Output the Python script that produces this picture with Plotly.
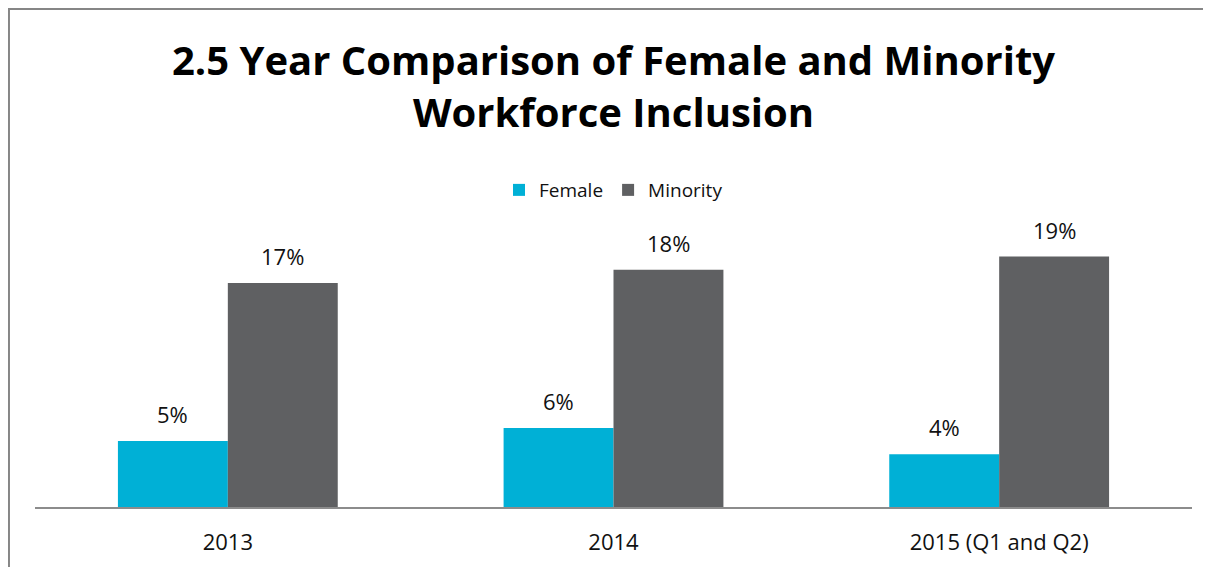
import plotly.graph_objects as go

# Chart data
categories = ["2013", "2014", "2015 (Q1 and Q2)"]
female = [5, 6, 4]
minority = [17, 18, 19]
female_labels = ["5%", "6%", "4%"]
minority_labels = ["17%", "18%", "19%"]

FONT = "'Open Sans', sans-serif"
FEMALE_COLOR = "#00B0D6"
MINORITY_COLOR = "#5F6062"

fig = go.Figure()
fig.add_trace(go.Bar(name="Female", x=categories, y=female,
                     marker=dict(color=FEMALE_COLOR, line=dict(width=0))))
fig.add_trace(go.Bar(name="Minority", x=categories, y=minority,
                     marker=dict(color=MINORITY_COLOR, line=dict(width=0))))

# value labels above each bar (category index, shifted to left / right bar)
annotations = []
for i, (v, lab) in enumerate(zip(female, female_labels)):
    annotations.append(dict(x=i, y=v, text=lab, xshift=-55, yshift=10,
                            showarrow=False, yanchor="bottom"))
for i, (v, lab) in enumerate(zip(minority, minority_labels)):
    annotations.append(dict(x=i, y=v, text=lab, xshift=55, yshift=10,
                            showarrow=False, yanchor="bottom"))

fig.update_layout(
    width=1211, height=567,
    margin=dict(l=27, r=27, t=209, b=68),
    paper_bgcolor="white", plot_bgcolor="white",
    barmode="group", bargap=0.43, bargroupgap=0,
    font=dict(family=FONT, color="#111111", size=22),
    title=dict(
        text="<b>2.5 Year Comparison of Female and Minority<br>Workforce Inclusion</b>",
        x=0.5, xanchor="center", y=0.882, yanchor="middle",
        font=dict(size=40, color="black", family=FONT),
    ),
    legend=dict(
        orientation="h", x=0.5, xanchor="center", y=1.093, yanchor="middle",
        font=dict(size=19), itemwidth=30,
    ),
    xaxis=dict(
        type="category", range=[-0.5, 2.5],
        showline=True, linecolor="#8C8C8C", linewidth=2,
        ticks="", tickfont=dict(size=22), ticklabelstandoff=15, showgrid=False,
    ),
    yaxis=dict(range=[0, 22], visible=False, showgrid=False, zeroline=False),
    annotations=annotations,
    shapes=[dict(
        type="rect", xref="paper", yref="paper",
        x0=-0.0225, x1=1.05, y0=-0.3, y1=1.717,
        line=dict(color="#868686", width=2),
    )],
)

fig.write_html("out.html")
